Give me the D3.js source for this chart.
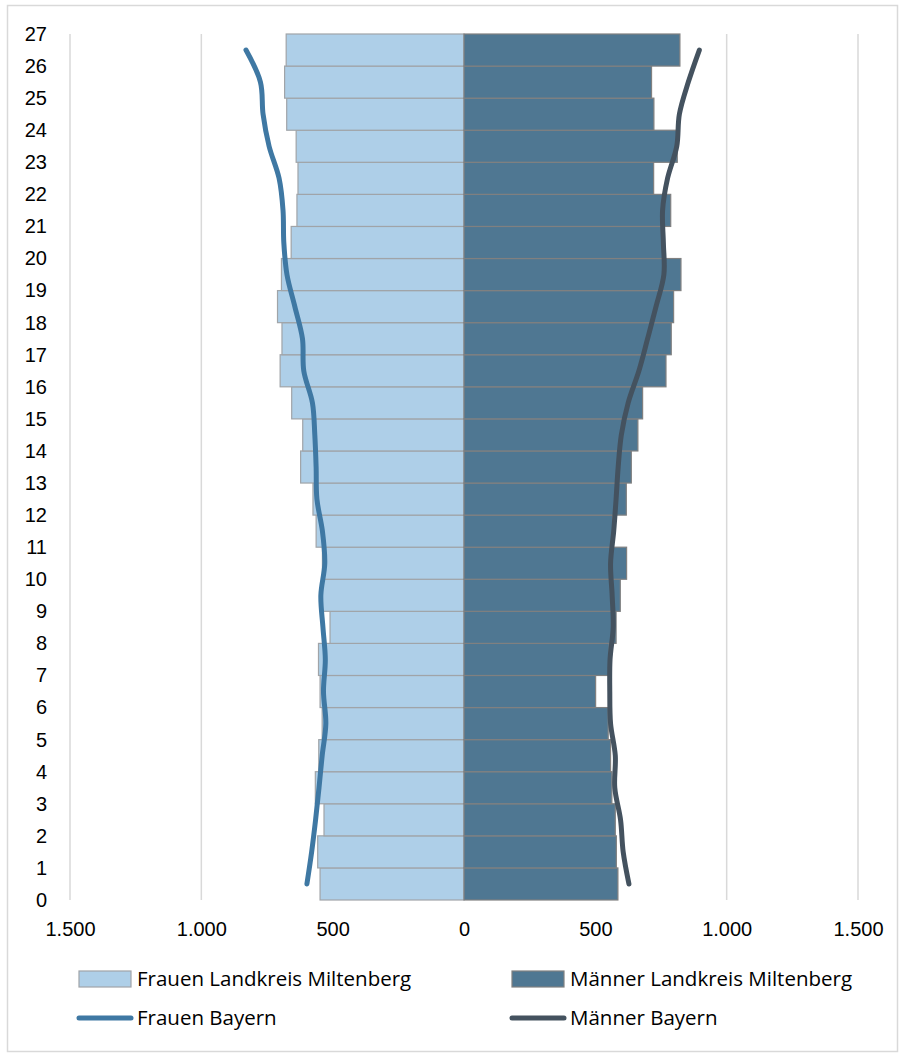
<!DOCTYPE html>
<html>
<head>
<meta charset="utf-8">
<style>
    body { margin: 0; background: #fff; }
    svg { display: block; font-family: Lato, "Open Sans", sans-serif; }
    .axis .domain { display: none; }
    .axis text { font-size: 20px; fill: #000; }
    .grid line { stroke: #d9d9d9; stroke-width: 1.5; }
    .legend text { font-family: "Open Sans", sans-serif; font-size: 20.5px; fill: #000; }
</style>
</head>
<body>
<svg width="903" height="1057"></svg>
<script src="https://d3js.org/d3.v7.min.js"></script>
<script>
    // ages 0..26, one bar per row (bar i sits between ticks i and i+1)
    let ages = d3.range(0, 27)

    let frauenMil = [548, 557, 533, 566, 553, 540, 548, 554, 510, 542,
                     539, 563, 575, 622, 614, 656, 700, 693, 710, 695,
                     658, 636, 632, 639, 675, 683, 677]
    let maennerMil = [586, 580, 576, 563, 558, 549, 501, 553, 579, 595,
                      619, 566, 618, 637, 662, 680, 769, 789, 798, 826,
                      760, 787, 722, 812, 723, 714, 822]
    let frauenBay = [598, 580, 565, 552, 540, 526, 535, 528, 537, 545,
                     530, 539, 560, 563, 568, 577, 610, 615, 644, 674,
                     686, 689, 704, 742, 765, 775, 830]
    let maennerBay = [628, 606, 596, 574, 576, 558, 555, 556, 568, 564,
                      558, 570, 579, 587, 599, 625, 666, 699, 731, 761,
                      759, 756, 775, 810, 820, 854, 896]

    let yTicks = d3.range(0, 28)
    let xTicks = [-1500, -1000, -500, 0, 500, 1000, 1500]

    let seriesNames = ["Frauen Landkreis Miltenberg", "Männer Landkreis Miltenberg",
                       "Frauen Bayern", "Männer Bayern"]

    let svg = d3.select("svg")

    // outer chart frame
    svg.append("rect")
        .attr("x", 7.5).attr("y", 5.5)
        .attr("width", 890).attr("height", 1046)
        .attr("fill", "none")
        .attr("stroke", "#d9d9d9")
        .attr("stroke-width", 1.5)

    let x = d3.scaleLinear().domain([-1500, 1500]).range([70, 858])
    let y = d3.scaleLinear().domain([0, 27]).range([900, 34])

    let de = d3.formatLocale({ decimal: ",", thousands: ".", grouping: [3], currency: ["", " €"] })
    let fmt = de.format(",.0f")

    // vertical gridlines
    svg.append("g")
        .attr("class", "grid")
        .selectAll("line")
        .data(xTicks)
        .join("line")
        .attr("x1", d => x(d)).attr("x2", d => x(d))
        .attr("y1", y(27)).attr("y2", y(0))

    let rowH = y(0) - y(1)

    // Frauen bars (left)
    svg.append("g")
        .selectAll("rect")
        .data(ages)
        .join("rect")
        .attr("x", i => x(-frauenMil[i]))
        .attr("width", i => x(0) - x(-frauenMil[i]))
        .attr("y", i => y(i + 1))
        .attr("height", rowH)
        .attr("fill", "#aecfe8")
        .attr("stroke", "#a0a4a8")
        .attr("stroke-width", 1.2)

    // Männer bars (right)
    svg.append("g")
        .selectAll("rect")
        .data(ages)
        .join("rect")
        .attr("x", x(0))
        .attr("width", i => x(maennerMil[i]) - x(0))
        .attr("y", i => y(i + 1))
        .attr("height", rowH)
        .attr("fill", "#4f7792")
        .attr("stroke", "#808080")
        .attr("stroke-width", 1.2)

    // Bayern lines, smoothed like the Excel original
    let lineF = d3.line()
        .x(i => x(-frauenBay[i]))
        .y(i => y(i + 0.5))
        .curve(d3.curveCatmullRom.alpha(0.5))

    let lineM = d3.line()
        .x(i => x(maennerBay[i]))
        .y(i => y(i + 0.5))
        .curve(d3.curveCatmullRom.alpha(0.5))

    svg.append("path")
        .datum(ages)
        .attr("d", lineF)
        .attr("fill", "none")
        .attr("stroke", "#3f78a3")
        .attr("stroke-width", 5)
        .attr("stroke-linecap", "round")

    svg.append("path")
        .datum(ages)
        .attr("d", lineM)
        .attr("fill", "none")
        .attr("stroke", "#44525f")
        .attr("stroke-width", 5)
        .attr("stroke-linecap", "round")

    // axes
    svg.append("g")
        .attr("class", "axis")
        .attr("transform", "translate(50,0)")
        .call(d3.axisLeft(y).tickValues(yTicks).tickSize(0).tickPadding(3).tickFormat(d3.format("d")))

    svg.append("g")
        .attr("class", "axis")
        .attr("transform", `translate(0,${y(0)})`)
        .call(d3.axisBottom(x).tickValues(xTicks).tickSize(0).tickPadding(22).tickFormat(d => fmt(Math.abs(d))))

    // legend
    let legend = svg.append("g").attr("class", "legend")
    let legendPos = [
        { x: 79, y: 979, type: "box", fill: "#aecfe8", stroke: "#a0a4a8" },
        { x: 512, y: 979, type: "box", fill: "#4f7792", stroke: "#808080" },
        { x: 79, y: 1018, type: "line", stroke: "#3f78a3" },
        { x: 512, y: 1018, type: "line", stroke: "#44525f" }
    ]

    seriesNames.forEach((name, k) => {
        let p = legendPos[k]
        if (p.type == "box") {
            legend.append("rect")
                .attr("x", p.x).attr("y", p.y - 8)
                .attr("width", 52).attr("height", 16)
                .attr("fill", p.fill)
                .attr("stroke", p.stroke)
                .attr("stroke-width", 1.2)
        } else {
            legend.append("line")
                .attr("x1", p.x).attr("x2", p.x + 52)
                .attr("y1", p.y).attr("y2", p.y)
                .attr("stroke", p.stroke)
                .attr("stroke-width", 5)
                .attr("stroke-linecap", "round")
        }
        legend.append("text")
            .attr("x", p.x + 58)
            .attr("y", p.y)
            .attr("dy", "0.35em")
            .text(name)
    })
</script>
</body>
</html>
